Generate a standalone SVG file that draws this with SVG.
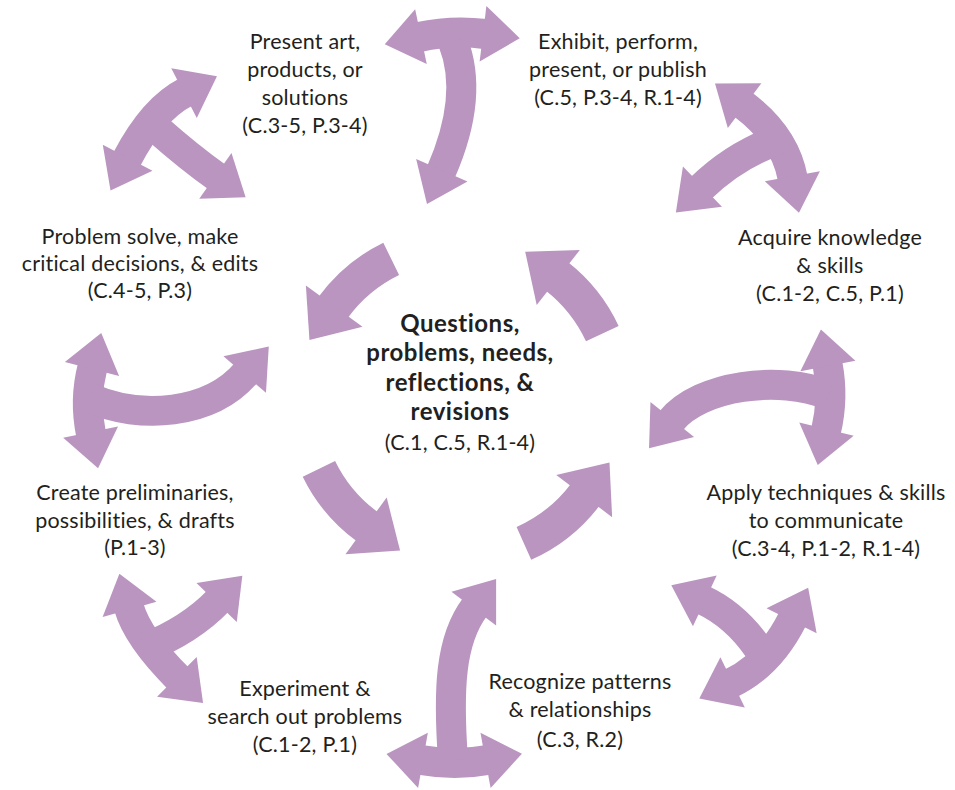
<svg xmlns="http://www.w3.org/2000/svg" width="955" height="790" viewBox="0 0 955 790">
<style>
.t{font-family:Lato,"Liberation Sans",sans-serif;font-size:21.5px;letter-spacing:0.2px;fill:#231f20;text-anchor:middle}
.b{font-weight:bold;font-size:24px;letter-spacing:0.5px}
.o{fill:none;stroke:#b995c0;stroke-width:30;stroke-linecap:butt}
.i{fill:none;stroke:#b995c0;stroke-width:36;stroke-linecap:butt}
.oe{marker-end:url(#ho)}
.ob{marker-start:url(#ho);marker-end:url(#ho)}
.ie{marker-end:url(#hi)}
</style>
<defs>
<marker id="ho" markerUnits="userSpaceOnUse" orient="auto-start-reverse" overflow="visible" markerWidth="1" markerHeight="1" refX="0" refY="0"><path d="M-2,-28 L35,0 L-2,28Z" fill="#b995c0"/></marker>
<marker id="hi" markerUnits="userSpaceOnUse" orient="auto-start-reverse" overflow="visible" markerWidth="1" markerHeight="1" refX="0" refY="0"><path d="M-2,-35 L40,0 L-2,35Z" fill="#b995c0"/></marker>
</defs>
<rect width="955" height="790" fill="#fff"/>
<g id="connectors">
<path class="o ob" d="M126.7,159.5 Q153,109 185.8,92.2"/>
<path class="o oe" d="M156,128 Q190,158 217,177"/>
<path class="o ob" d="M419,37 Q452,30 485,34"/>
<path class="o oe" d="M453,42 C472,90 455,140 441,172"/>
<path class="o ob" d="M743,104.5 Q785,136 792.7,178.3"/>
<path class="o oe" d="M778,140 Q735,155 701,188"/>
<path class="o ob" d="M92.5,367 Q84,400 91,434"/>
<path class="o oe" d="M90,398 C140,420 210,415 246,373"/>
<path class="o ob" d="M827.5,364 Q834,398 826,431"/>
<path class="o oe" d="M828,395 C780,375 700,385 671,421"/>
<path class="o ob" d="M129,607.5 Q137.6,637.6 178.3,678.3"/>
<path class="o oe" d="M145,648 Q190,630 218,601"/>
<path class="o ob" d="M421,760 Q455,766 487.5,760"/>
<path class="o oe" d="M453,760 C448,690 450,640 475,607"/>
<path class="o ob" d="M792.5,619 Q769.8,664.4 730.8,683.3"/>
<path class="o oe" d="M758,648 Q735,615 703,600"/>
<path class="i ie" d="M391.2,258.9 A157,157 0 0 0 333,307.7"/>
<path class="i ie" d="M602.3,333.7 A157,157 0 0 0 556.7,276.3"/>
<path class="i ie" d="M523.9,543.4 A157,157 0 0 0 585.4,494.5"/>
<path class="i ie" d="M318.9,468.8 A157,157 0 0 0 367.7,527"/>
</g>
<g id="center"><text class="t b" x="460" y="332">Questions,</text><text class="t b" x="460" y="361">problems, needs,</text><text class="t b" x="460" y="391">reflections, &amp;</text><text class="t b" x="460" y="420">revisions</text><text class="t" x="460" y="450">(C.1, C.5, R.1-4)</text></g>
<g id="present"><text class="t" x="305" y="49">Present art,</text><text class="t" x="305" y="77">products, or</text><text class="t" x="305" y="105">solutions</text><text class="t" x="305" y="133">(C.3-5, P.3-4)</text></g>
<g id="exhibit"><text class="t" x="618" y="49">Exhibit, perform,</text><text class="t" x="618" y="77">present, or publish</text><text class="t" x="618" y="105">(C.5, P.3-4, R.1-4)</text></g>
<g id="acquire"><text class="t" x="830" y="245">Acquire knowledge</text><text class="t" x="830" y="273">&amp; skills</text><text class="t" x="830" y="301">(C.1-2, C.5, P.1)</text></g>
<g id="problem"><text class="t" x="140" y="244">Problem solve, make</text><text class="t" x="140" y="271">critical decisions, &amp; edits</text><text class="t" x="140" y="298">(C.4-5, P.3)</text></g>
<g id="create"><text class="t" x="135" y="500">Create preliminaries,</text><text class="t" x="135" y="528">possibilities, &amp; drafts</text><text class="t" x="135" y="555">(P.1-3)</text></g>
<g id="apply"><text class="t" x="826" y="500">Apply techniques &amp; skills</text><text class="t" x="826" y="528">to communicate</text><text class="t" x="826" y="556">(C.3-4, P.1-2, R.1-4)</text></g>
<g id="experiment"><text class="t" x="305" y="696">Experiment &amp;</text><text class="t" x="305" y="724">search out problems</text><text class="t" x="305" y="752">(C.1-2, P.1)</text></g>
<g id="recognize"><text class="t" x="580" y="689">Recognize patterns</text><text class="t" x="580" y="717">&amp; relationships</text><text class="t" x="580" y="747">(C.3, R.2)</text></g>
</svg>
